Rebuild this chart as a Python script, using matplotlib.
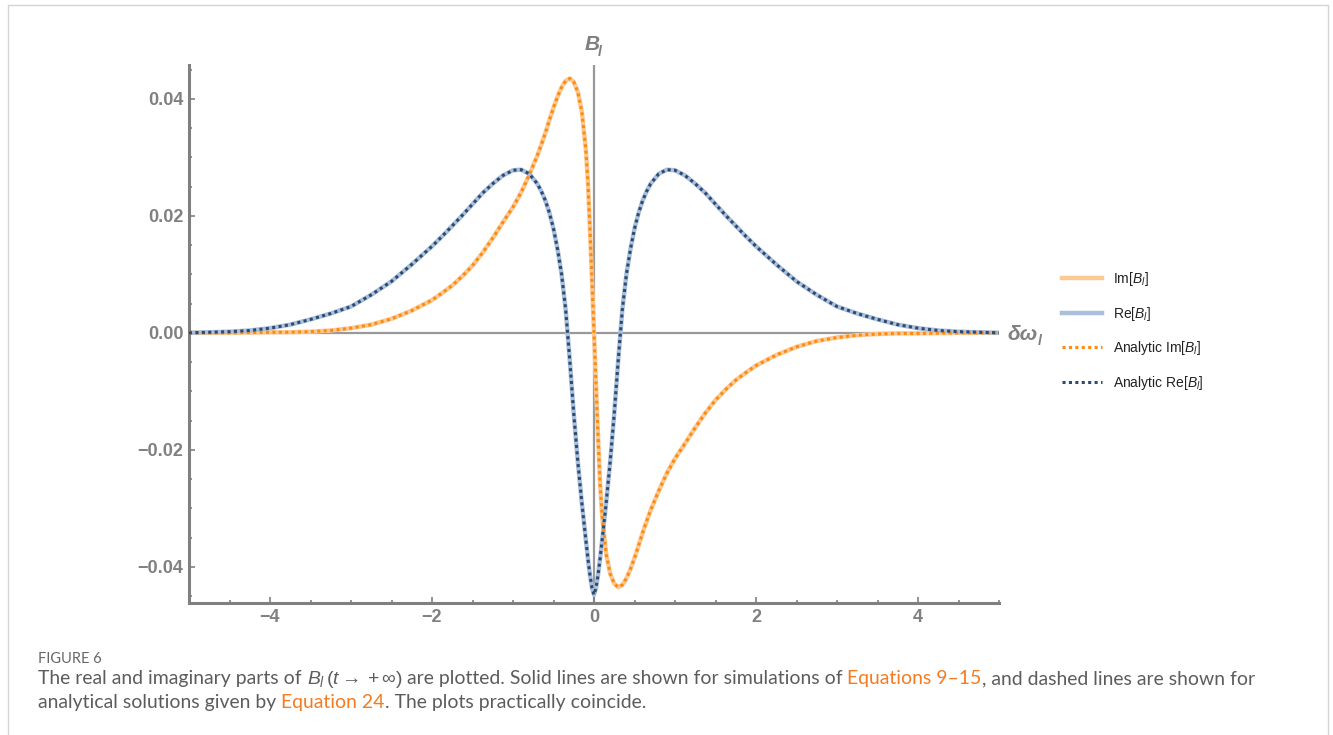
import matplotlib
matplotlib.use("Agg")
import matplotlib.pyplot as plt
from matplotlib.lines import Line2D
from matplotlib.patches import Rectangle
from matplotlib.ticker import MultipleLocator, FuncFormatter

# valeurs
detuning = [-5, -4.75, -4.5, -4.25, -4, -3.75, -3.5, -3.25, -3, -2.75, -2.5, -2.25, -2,
            -1.875, -1.75, -1.625, -1.5, -1.375, -1.25, -1.125, -1, -0.9, -0.8, -0.7,
            -0.65, -0.6, -0.55, -0.5, -0.45, -0.4, -0.35, -0.3, -0.25, -0.2, -0.15, -0.1,
            -0.075, -0.05, -0.025, 0,
            0.025, 0.05, 0.075, 0.1, 0.15, 0.2, 0.25, 0.3, 0.35, 0.4, 0.45, 0.5, 0.55,
            0.6, 0.65, 0.7, 0.8, 0.9, 1, 1.125, 1.25, 1.375, 1.5, 1.625, 1.75, 1.875, 2,
            2.25, 2.5, 2.75, 3, 3.25, 3.5, 3.75, 4, 4.25, 4.5, 4.75, 5]

re_b = [0.0, 0.0001, 0.0002, 0.0004, 0.0008, 0.0014, 0.0023, 0.0033, 0.0045, 0.0065,
        0.0088, 0.0117, 0.0148, 0.0165, 0.0183, 0.0201, 0.0220, 0.0239, 0.0255, 0.0269,
        0.0278, 0.0279, 0.0272, 0.0255, 0.0242, 0.0226, 0.0205, 0.0178, 0.0143, 0.0100,
        0.0040, -0.0045, -0.0138, -0.0220, -0.0291, -0.0355, -0.0386, -0.0414, -0.0436,
        -0.0448,
        -0.0436, -0.0414, -0.0386, -0.0355, -0.0291, -0.0220, -0.0138, -0.0045, 0.0040,
        0.0100, 0.0143, 0.0178, 0.0205, 0.0226, 0.0242, 0.0255, 0.0272, 0.0279, 0.0278,
        0.0269, 0.0255, 0.0239, 0.0220, 0.0201, 0.0183, 0.0165, 0.0148, 0.0117, 0.0088,
        0.0065, 0.0045, 0.0033, 0.0023, 0.0014, 0.0008, 0.0004, 0.0002, 0.0001, 0.0]

im_b = [0.0, 0.0, 0.0, 0.00005, 0.0001, 0.0001, 0.0002, 0.0004, 0.0008, 0.0014, 0.0024,
        0.0038, 0.0056, 0.0068, 0.0081, 0.0097, 0.0115, 0.0137, 0.0162, 0.0189, 0.0215,
        0.0240, 0.0270, 0.0303, 0.0322, 0.0342, 0.0364, 0.0385, 0.0404, 0.0420, 0.0431,
        0.0435, 0.0429, 0.0412, 0.0378, 0.0312, 0.0258, 0.0178, 0.0090, 0.0,
        -0.0090, -0.0178, -0.0258, -0.0312, -0.0378, -0.0412, -0.0429, -0.0435, -0.0431,
        -0.0420, -0.0404, -0.0385, -0.0364, -0.0342, -0.0322, -0.0303, -0.0270, -0.0240,
        -0.0215, -0.0189, -0.0162, -0.0137, -0.0115, -0.0097, -0.0081, -0.0068, -0.0056,
        -0.0038, -0.0024, -0.0014, -0.0008, -0.0004, -0.0002, -0.0001, -0.0001, -0.00005,
        0.0, 0.0, 0.0]

legend_labels = ["Im[$B_l$]", "Re[$B_l$]", "Analytic Im[$B_l$]", "Analytic Re[$B_l$]"]
x_ticks = [-4, -2, 0, 2, 4]
y_ticks = [-0.04, -0.02, 0.0, 0.02, 0.04]

caption_title = "FIGURE 6"
caption_lines = [
    [("The real and imaginary parts of ", "g"), (r"$B_l\,(t \rightarrow +\infty)$", "g"),
     (" are plotted. Solid lines are shown for simulations of ", "g"),
     ("Equations 9\u201315", "o"), (", and dashed lines are shown for", "g")],
    [("analytical solutions given by ", "g"), ("Equation 24", "o"),
     (". The plots practically coincide.", "g")],
]

W, H = 1333, 735
GRAY = "#808080"
ORANGE_LIGHT = "#fcc994"
BLUE_LIGHT = "#a9bfdb"
ORANGE = "#ff8a0d"
BLUE = "#2d4a70"
CAPTION_FONT = ["Lato", "DejaVu Sans"]

plt.rcParams["font.family"] = ["Liberation Sans", "DejaVu Sans"]
plt.rcParams["mathtext.fontset"] = "custom"
plt.rcParams["mathtext.rm"] = "Liberation Sans"
plt.rcParams["mathtext.it"] = "Liberation Sans:italic"


def fx(px):
    return px / W


def fy(py):
    return 1 - py / H


fig = plt.figure(figsize=(W / 100, H / 100), dpi=100)
ax = fig.add_axes([fx(189), fy(603), fx(999) - fx(189), fy(65) - fy(603)])

# cadre gris autour de la figure
fig.patches.append(Rectangle((fx(8), fy(760)), fx(1328) - fx(8), fy(5) - fy(760),
                             transform=fig.transFigure, fill=False,
                             edgecolor="#d4d4d4", lw=1))

# axes passant par l'origine
ax.axhline(0, color="#999999", lw=1.6, zorder=1)
ax.axvline(0, color="#999999", lw=1.6, zorder=1)

# simulations (traits pleins) puis solutions analytiques (pointillés)
ax.plot(detuning, im_b, color=ORANGE_LIGHT, lw=3.2, zorder=2)
ax.plot(detuning, re_b, color=BLUE_LIGHT, lw=3.2, zorder=2)
ax.plot(detuning, im_b, color=ORANGE, lw=2.2, ls=(0, (1, 1.1)), zorder=3)
ax.plot(detuning, re_b, color=BLUE, lw=2.2, ls=(0, (1, 1.1)), zorder=3)

ax.set_xlim(-5, 5)
ax.set_ylim(-0.0462, 0.0458)

for side in ["top", "right"]:
    ax.spines[side].set_visible(False)
for side in ["left", "bottom"]:
    ax.spines[side].set_color(GRAY)
    ax.spines[side].set_linewidth(2.2)

ax.set_xticks(x_ticks)
ax.set_yticks(y_ticks)
ax.xaxis.set_minor_locator(MultipleLocator(0.5))
ax.yaxis.set_minor_locator(MultipleLocator(0.005))
ax.xaxis.set_major_formatter(FuncFormatter(lambda v, p: f"{v:.0f}".replace("-", "\u2212")))
ax.yaxis.set_major_formatter(FuncFormatter(lambda v, p: f"{v:.2f}".replace("-", "\u2212")))
ax.tick_params(which="both", direction="in", color=GRAY, width=1.2)
ax.tick_params(which="major", length=4, labelsize=13, labelcolor=GRAY, pad=4)
ax.tick_params(which="minor", length=2.5)
for lab in ax.get_xticklabels() + ax.get_yticklabels():
    lab.set_fontweight("bold")

# étiquettes des axes
fig.text(fx(585), fy(45), "B", fontsize=15, fontweight="bold", style="italic",
         color=GRAY, ha="left", va="center")
fig.text(fx(598), fy(52), "l", fontsize=10, fontweight="bold", style="italic",
         color=GRAY, ha="left", va="center")
fig.text(fx(1007), fy(334), "\u03b4\u03c9", fontsize=15, fontweight="bold", style="italic",
         color=GRAY, ha="left", va="center")
fig.text(fx(1038), fy(341), "l", fontsize=10, fontweight="bold", style="italic",
         color=GRAY, ha="left", va="center")

handles = [
    Line2D([], [], color=ORANGE_LIGHT, lw=3.2),
    Line2D([], [], color=BLUE_LIGHT, lw=3.2),
    Line2D([], [], color=ORANGE, lw=2.2, ls=(0, (1, 1.1))),
    Line2D([], [], color=BLUE, lw=2.2, ls=(0, (1, 1.1))),
]
fig.legend(handles, legend_labels, loc="center left", bbox_to_anchor=(fx(1055), fy(331)),
           frameon=False, fontsize=10, borderpad=0, handlelength=2.9, handletextpad=0.75,
           labelspacing=1.2, labelcolor="#222222")

# légende sous la figure, en plusieurs couleurs
fig.text(fx(38), fy(663), caption_title, fontsize=10.5, color="#666666",
         family=CAPTION_FONT)

renderer = fig.canvas.get_renderer()
colors = {"g": "#5c5c5c", "o": "#f47b20"}


def width_of(s, size):
    t = fig.text(0, 0, "|" + s + "|", fontsize=size, family=CAPTION_FONT)
    t2 = fig.text(0, 0, "||", fontsize=size, family=CAPTION_FONT)
    w = t.get_window_extent(renderer).width - t2.get_window_extent(renderer).width
    t.remove()
    t2.remove()
    return w


size = 12.0
line1_w = sum(width_of(s, size) for s, c in caption_lines[0])
size = size * 1215 / line1_w

for (y0, pieces) in zip([684, 708], caption_lines):
    x = 38
    for s, c in pieces:
        fig.text(fx(x), fy(y0), s, fontsize=size, color=colors[c], va="baseline",
                 ha="left", family=CAPTION_FONT)
        x += width_of(s, size)

fig.savefig("out.png", dpi=100)
